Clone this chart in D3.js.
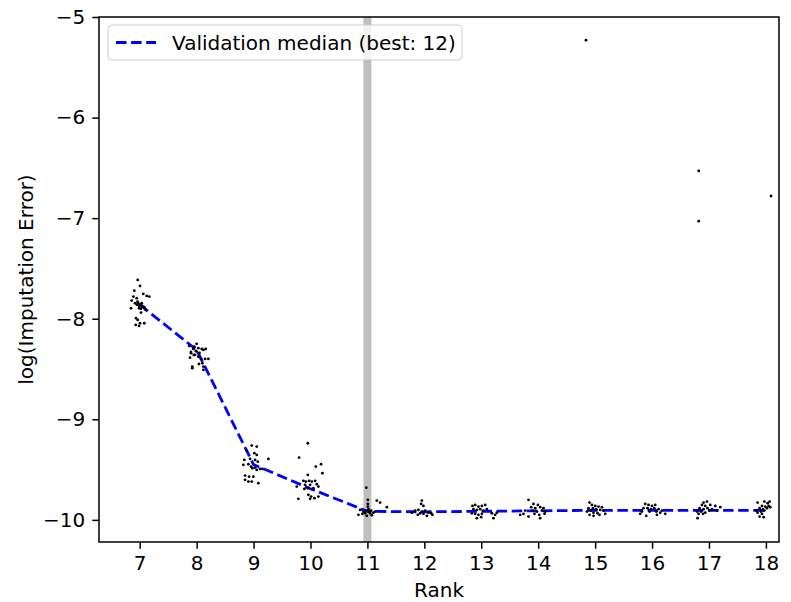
<!DOCTYPE html>
<html>
<head>
<meta charset="utf-8">
<script src="https://cdn.jsdelivr.net/npm/d3@7"></script>
<style>
  html, body { margin: 0; padding: 0; background: #fff; }
  svg { display: block; font-family: "DejaVu Sans", sans-serif; }
</style>
</head>
<body>
<svg id="chart" width="791" height="602"></svg>
<script>
// Ranks and validation median per rank
const ranks = [7, 8, 9, 10, 11, 12, 13, 14, 15, 16, 17, 18];
const medians = [-7.86, -8.31, -9.45, -9.69, -9.915, -9.92, -9.915, -9.91, -9.905, -9.905, -9.905, -9.905];
const bestRank = 11;
const legendLabel = "Validation median (best: 12)";
const yTicks = [-5, -6, -7, -8, -9, -10];

// individual trials, [jittered rank, log error]
const trials7 = [[6.965,-7.614],[7.005,-7.674],[6.905,-7.721],[7.063,-7.753],[7.123,-7.773],[7.169,-7.780],[6.888,-7.780],[6.859,-7.820],[6.947,-7.796],[6.917,-7.846],[6.975,-7.846],[7.005,-7.860],[7.035,-7.846],[7.046,-7.873],[6.847,-7.896],[6.988,-7.896],[7.081,-7.886],[7.023,-7.939],[7.105,-7.913],[6.935,-7.995],[6.965,-8.012],[7.005,-8.045],[7.081,-8.045],[6.930,-8.062],[6.988,-8.072],[6.960,-7.830],[6.990,-7.870],[7.020,-7.900],[6.950,-7.860]];
const trials8 = [[7.942,-8.300],[7.984,-8.320],[7.902,-8.343],[8.030,-8.293],[8.090,-8.300],[8.160,-8.300],[7.972,-8.360],[7.884,-8.387],[8.030,-8.377],[8.077,-8.400],[8.148,-8.400],[8.206,-8.400],[7.924,-8.476],[7.924,-8.492],[8.100,-8.442],[8.118,-8.476],[8.118,-8.509],[8.002,-8.327],[7.960,-8.277],[7.870,-8.270],[8.000,-8.250],[7.950,-8.360],[8.050,-8.340],[8.120,-8.310],[8.040,-8.450],[7.900,-8.330]];
const trials9 = [[8.880,-9.311],[8.968,-9.261],[9.056,-9.271],[9.014,-9.337],[9.056,-9.354],[8.838,-9.404],[8.938,-9.394],[9.026,-9.404],[9.074,-9.421],[9.260,-9.394],[8.821,-9.453],[8.909,-9.446],[8.956,-9.470],[8.979,-9.486],[9.026,-9.480],[9.056,-9.503],[9.114,-9.493],[9.155,-9.493],[8.851,-9.560],[8.921,-9.570],[8.996,-9.570],[8.851,-9.602],[8.909,-9.619],[8.968,-9.619],[9.084,-9.635]];
const trials10 = [[9.953,-9.238],[9.800,-9.381],[10.093,-9.470],[10.186,-9.446],[10.209,-9.536],[9.953,-9.553],[9.875,-9.612],[9.917,-9.619],[9.975,-9.612],[10.023,-9.619],[10.081,-9.612],[9.759,-9.669],[9.905,-9.652],[9.993,-9.652],[10.111,-9.645],[9.893,-9.692],[9.953,-9.685],[10.051,-9.685],[10.139,-9.669],[9.963,-9.751],[10.011,-9.768],[10.069,-9.784],[9.787,-9.791],[9.993,-9.791],[10.139,-9.768]];
const trials11 = [[11.007,-9.801],[11.007,-9.841],[11.007,-9.868],[11.165,-9.808],[11.223,-9.828],[11.341,-9.874],[10.872,-9.901],[10.930,-9.917],[10.972,-9.908],[11.018,-9.917],[11.065,-9.908],[11.105,-9.928],[10.912,-9.940],[10.960,-9.934],[11.047,-9.934],[10.842,-9.950],[10.989,-9.960],[11.077,-9.953],[11.135,-9.917],[11.018,-9.894],[10.980,-9.680]];
const trials12 = [[11.956,-9.808],[11.944,-9.841],[11.984,-9.861],[11.838,-9.908],[11.896,-9.901],[11.956,-9.917],[12.014,-9.908],[11.926,-9.934],[11.984,-9.940],[12.072,-9.928],[12.120,-9.934],[11.780,-9.928],[12.044,-9.960],[12.142,-9.950],[11.886,-9.950]];
const trials13 = [[12.845,-9.861],[12.893,-9.851],[12.951,-9.868],[13.011,-9.861],[13.069,-9.851],[12.863,-9.894],[12.923,-9.901],[12.981,-9.894],[13.039,-9.908],[13.098,-9.894],[12.835,-9.934],[12.893,-9.940],[12.951,-9.950],[13.011,-9.940],[13.186,-9.934],[13.244,-9.950],[13.274,-9.928],[12.923,-9.983],[13.214,-9.983],[12.998,-9.973]];
const trials14 = [[13.830,-9.801],[13.917,-9.841],[13.995,-9.851],[13.877,-9.874],[13.947,-9.884],[14.035,-9.874],[14.093,-9.884],[13.900,-9.908],[13.977,-9.917],[14.065,-9.908],[14.123,-9.917],[13.772,-9.908],[13.742,-9.940],[13.935,-9.940],[14.018,-9.950],[14.111,-9.940],[13.684,-9.950],[13.830,-9.967],[14.035,-9.983]];
const trials15 = [[14.902,-9.828],[14.944,-9.851],[15.002,-9.861],[15.060,-9.868],[15.120,-9.874],[14.884,-9.884],[14.961,-9.884],[15.019,-9.894],[15.090,-9.901],[15.148,-9.908],[14.856,-9.917],[14.926,-9.908],[14.972,-9.928],[15.042,-9.934],[15.178,-9.940],[14.902,-9.950],[14.972,-9.960],[15.077,-9.950]];
const trials16 = [[15.880,-9.841],[15.938,-9.851],[15.998,-9.861],[16.056,-9.851],[15.851,-9.884],[15.921,-9.884],[15.981,-9.894],[16.039,-9.884],[16.114,-9.894],[16.174,-9.908],[15.822,-9.917],[15.956,-9.917],[16.074,-9.917],[16.144,-9.928],[16.232,-9.940],[15.898,-9.960],[15.793,-9.940],[16.086,-9.950]];
const trials17 = [[16.905,-9.828],[16.965,-9.818],[16.877,-9.851],[16.935,-9.861],[17.023,-9.851],[17.111,-9.861],[17.199,-9.874],[16.835,-9.884],[16.905,-9.894],[16.975,-9.884],[17.053,-9.894],[16.789,-9.917],[16.859,-9.917],[16.935,-9.928],[17.011,-9.908],[17.141,-9.908],[16.817,-9.940],[16.895,-9.940],[16.800,-9.983]];
const trials18 = [[17.854,-9.828],[17.972,-9.818],[18.030,-9.834],[18.065,-9.818],[17.931,-9.861],[17.989,-9.868],[18.047,-9.861],[17.889,-9.884],[17.949,-9.894],[18.019,-9.884],[18.077,-9.874],[17.914,-9.917],[17.972,-9.908],[17.854,-9.928],[17.931,-9.940],[17.889,-9.967],[17.960,-9.973],[17.831,-9.908]];
const outliers = [[14.84,-5.23],[16.82,-6.53],[16.82,-7.03],[18.09,-6.78]];

const margens = { left: 99, right: 12, top: 17, bottom: 60 };

const svg = d3.select("#chart");
const width = +svg.attr("width") - margens.left - margens.right;
const height = +svg.attr("height") - margens.top - margens.bottom;

const x = d3.scaleLinear().domain([6.285, 18.23]).range([0, width]);
const y = d3.scaleLinear().domain([-10.22, -5.0]).range([height, 0]);

const g = svg.append("g")
  .attr("transform", `translate(${margens.left},${margens.top})`);

// best rank marker
g.append("line")
  .attr("x1", x(bestRank)).attr("x2", x(bestRank))
  .attr("y1", 0).attr("y2", height)
  .attr("stroke", "#bfbfbf")
  .attr("stroke-width", 8);

// median line
const dash = "10.5,4.6";
const line = d3.line().x((d, i) => x(ranks[i])).y(d => y(d));
g.append("path")
  .datum(medians)
  .attr("fill", "none")
  .attr("stroke", "#0000ff")
  .attr("stroke-width", 2.8)
  .attr("stroke-dasharray", dash)
  .attr("d", line);

// dots
const allTrials = [trials7, trials8, trials9, trials10, trials11, trials12,
  trials13, trials14, trials15, trials16, trials17, trials18, outliers].flat();
g.selectAll(".dot")
  .data(allTrials)
  .enter()
  .append("circle")
  .attr("class", "dot")
  .attr("cx", d => x(d[0]))
  .attr("cy", d => y(d[1]))
  .attr("r", 1.4)
  .attr("fill", "#000");

// axes
const fontSize = "20px";
const xAxis = g.append("g")
  .attr("transform", `translate(0,${height})`)
  .call(d3.axisBottom(x).tickValues(ranks).tickFormat(d3.format("d")).tickSize(6.7).tickPadding(7));
const yAxis = g.append("g")
  .call(d3.axisLeft(y).tickValues(yTicks).tickFormat(d3.format("d")).tickSize(6.7).tickPadding(7));

[xAxis, yAxis].forEach(ax => {
  ax.select(".domain").remove();
  ax.selectAll(".tick line").attr("stroke", "#000").attr("stroke-width", 1.5);
  ax.selectAll(".tick text")
    .attr("fill", "#000")
    .style("font-family", "DejaVu Sans")
    .style("font-size", fontSize);
});

// frame
g.append("rect")
  .attr("x", 0).attr("y", 0)
  .attr("width", width).attr("height", height)
  .attr("fill", "none")
  .attr("stroke", "#000")
  .attr("stroke-width", 1.5);

// axis labels
svg.append("text")
  .attr("x", margens.left + width / 2)
  .attr("y", 597)
  .attr("text-anchor", "middle")
  .style("font-size", fontSize)
  .text("Rank");

svg.append("text")
  .attr("transform", `translate(33,${margens.top + height / 2}) rotate(-90)`)
  .attr("text-anchor", "middle")
  .style("font-size", fontSize)
  .text("log(Imputation Error)");

// legend
const legend = svg.append("g").attr("transform", "translate(108,25)");
legend.append("rect")
  .attr("width", 354).attr("height", 35)
  .attr("rx", 4)
  .attr("fill", "#fff").attr("fill-opacity", 0.8)
  .attr("stroke", "#cccccc").attr("stroke-width", 1);
legend.append("line")
  .attr("x1", 8).attr("x2", 48)
  .attr("y1", 17.5).attr("y2", 17.5)
  .attr("stroke", "#0000ff")
  .attr("stroke-width", 2.8)
  .attr("stroke-dasharray", dash);
legend.append("text")
  .attr("x", 64)
  .attr("y", 24.5)
  .style("font-size", fontSize)
  .text(legendLabel);
</script>
</body>
</html>
